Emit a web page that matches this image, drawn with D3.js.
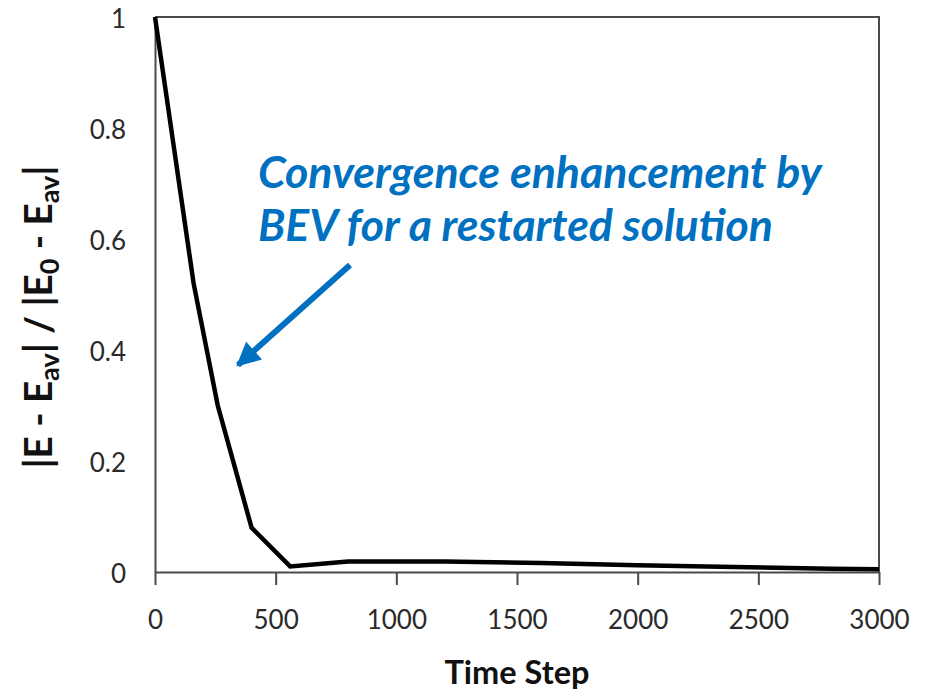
<!DOCTYPE html>
<html>
<head>
<meta charset="utf-8">
<script src="https://cdn.jsdelivr.net/npm/d3@7"></script>
<style>
  html, body { margin: 0; padding: 0; background: #fff; }
  svg { display: block; }
  text { font-family: Lato, "Open Sans", sans-serif; }
</style>
</head>
<body>
<svg id="chart" width="933" height="691"></svg>
<script>
// Normalised energy deviation vs. time step
const timeSteps = [0, 160, 260, 400, 560, 800, 1200, 1600, 2000, 2400, 2800, 3000];
const deviation = [1.0, 0.52, 0.30, 0.08, 0.01, 0.019, 0.019, 0.016, 0.012, 0.009, 0.006, 0.005];
const xTicks = [0, 500, 1000, 1500, 2000, 2500, 3000];
const yTicks = [0, 0.2, 0.4, 0.6, 0.8, 1];
const annotationLines = ["Convergence enhancement by", "BEV for a restarted solution"];

const svg = d3.select("#chart");
const plot = { left: 155, right: 879, top: 17, bottom: 572 };

const x = d3.scaleLinear().domain([0, 3000]).range([plot.left, plot.right]);
const y = d3.scaleLinear().domain([0, 1]).range([plot.bottom, plot.top]);

const axisColor = "#4a4a4a";
const labelColor = "#2a2a2a";

// Scale a text element's font size so it spans the given width
function fitWidth(sel, target) {
  const node = sel.node();
  const fs = parseFloat(sel.attr("font-size"));
  const w = node.getComputedTextLength();
  if (w > 0) sel.attr("font-size", fs * target / w);
}

// Plot frame (top and right edges)
svg.append("path")
  .attr("d", `M${plot.left},${plot.top}H${plot.right}V${plot.bottom}`)
  .attr("fill", "none")
  .attr("stroke", axisColor)
  .attr("stroke-width", 2);

// X axis with outward ticks
const xAxis = svg.append("g")
  .attr("transform", `translate(0,${plot.bottom})`)
  .call(d3.axisBottom(x).tickValues(xTicks).tickSize(13).tickSizeOuter(0).tickPadding(26)
    .tickFormat(d3.format("d")));
xAxis.select(".domain").attr("stroke", axisColor).attr("stroke-width", 2);
xAxis.selectAll(".tick line").attr("stroke", axisColor).attr("stroke-width", 2);
xAxis.selectAll(".tick text")
  .attr("font-size", 26).attr("fill", labelColor).attr("font-family", "Lato, sans-serif");

// Y axis without ticks
const yAxis = svg.append("g")
  .attr("transform", `translate(${plot.left},0)`)
  .call(d3.axisLeft(y).tickValues(yTicks).tickSize(0).tickPadding(29)
    .tickFormat(d => d === 0 || d === 1 ? d3.format("d")(d) : d3.format(".1f")(d)));
yAxis.select(".domain").attr("stroke", axisColor).attr("stroke-width", 2);
yAxis.selectAll(".tick text")
  .attr("font-size", 26).attr("fill", labelColor).attr("font-family", "Lato, sans-serif")
  .attr("dy", "0.4em");

// Data line
const line = d3.line().x((d, i) => x(timeSteps[i])).y(d => y(d));
svg.append("path")
  .datum(deviation)
  .attr("d", line)
  .attr("fill", "none")
  .attr("stroke", "#000")
  .attr("stroke-width", 4.5)
  .attr("stroke-linejoin", "miter");

// Axis titles
const xTitle = svg.append("text")
  .attr("x", 517).attr("y", 684)
  .attr("text-anchor", "middle")
  .attr("font-size", 30).attr("font-weight", "bold").attr("fill", "#111")
  .text("Time Step");
fitWidth(xTitle, 145);

const yTitle = svg.append("text")
  .attr("transform", "translate(52,317) rotate(-90)")
  .attr("text-anchor", "middle")
  .attr("font-size", 30).attr("font-weight", "bold").attr("fill", "#111");
const parts = [
  ["|E - E", 0], ["av", 1], ["| / |E", 0], ["0", 1], [" - E", 0], ["av", 1], ["|", 0]
];
parts.forEach(([t, sub]) => {
  const ts = yTitle.append("tspan").text(t);
  if (sub) ts.attr("baseline-shift", "-25%").attr("font-size", "70%");
});
fitWidth(yTitle, 303);

// Annotation text
const blue = "#0070C0";
const ann = svg.append("g");
annotationLines.forEach((t, i) => {
  const tx = ann.append("text")
    .attr("x", 258).attr("y", 188 + i * 53)
    .attr("font-size", 40).attr("font-weight", "bold").attr("font-style", "italic")
    .attr("fill", blue)
    .text(t);
  fitWidth(tx, i === 0 ? 564 : 515);
});

// Annotation arrow
const defs = svg.append("defs");
defs.append("marker")
  .attr("id", "arrowHead")
  .attr("viewBox", "0 0 10 10")
  .attr("refX", 9).attr("refY", 5)
  .attr("markerUnits", "userSpaceOnUse")
  .attr("markerWidth", 26).attr("markerHeight", 24)
  .attr("orient", "auto")
  .append("path")
  .attr("d", "M0,0L10,5L0,10Z")
  .attr("fill", blue);

svg.append("line")
  .attr("x1", 350).attr("y1", 265)
  .attr("x2", 238).attr("y2", 365)
  .attr("stroke", blue)
  .attr("stroke-width", 6)
  .attr("marker-end", "url(#arrowHead)");
</script>
</body>
</html>
